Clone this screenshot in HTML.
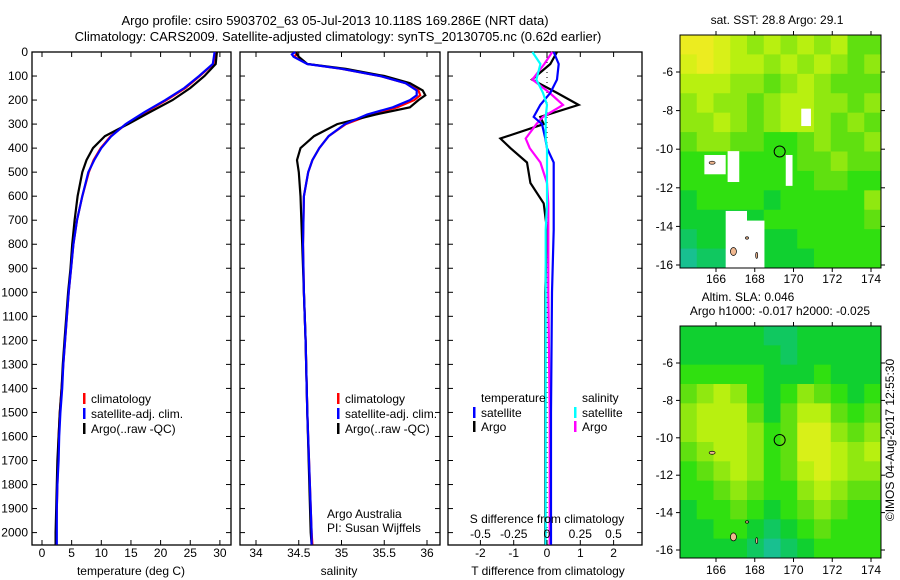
<!DOCTYPE html>
<html><head><meta charset="utf-8"><style>
body{margin:0;background:#fff}
svg{display:block;font-family:"Liberation Sans",sans-serif;font-size:12px}
</style></head><body>
<svg id="c" width="900" height="580" viewBox="0 0 900 580">
<text x="335" y="25" text-anchor="middle" font-size="13">Argo profile: csiro 5903702_63 05-Jul-2013 10.118S 169.286E (NRT data)</text>
<text x="338" y="41" text-anchor="middle" font-size="13">Climatology: CARS2009. Satellite-adjusted climatology: synTS_20130705.nc (0.62d earlier)</text>
<text x="777" y="24" text-anchor="middle">sat. SST: 28.8 Argo: 29.1</text>
<text x="748" y="301" text-anchor="middle">Altim. SLA: 0.046</text>
<text x="780" y="315" text-anchor="middle">Argo h1000: -0.017 h2000: -0.025</text>
<text transform="translate(894,440) rotate(-90)" text-anchor="middle">©IMOS 04-Aug-2017 12:55:30</text>
<g id="g"></g>
</svg>
<script>
// ---- profile data ----
const tDepth=[0,50,100,150,200,250,300,350,400,450,500,600,700,800,900,1000,1100,1200,1300,1400,1500,1600,1700,1800,1900,2000,2050];
const tClim=[29.2,28.9,26.6,24.2,21,17.5,14.2,11.6,9.9,8.7,7.9,6.8,5.9,5.3,4.9,4.5,4.2,3.9,3.6,3.3,3.0,2.8,2.7,2.6,2.5,2.4,2.4];
const tSat=[29.1,28.8,26.5,24.0,20.8,17.3,14.1,11.7,10.0,8.8,7.8,6.8,5.9,5.3,4.9,4.5,4.2,3.9,3.6,3.4,3.1,2.9,2.8,2.6,2.5,2.5,2.5];
const tArgo=[29.5,29.3,27.4,25.0,22.0,18.2,14.5,10.6,8.6,7.5,6.8,6.0,5.5,5.1,4.8,4.4,4.1,3.8,3.5,3.3,3.0,2.8,2.6,2.5,2.4,2.3,2.3];
const sDepth=[0,10,20,50,70,100,130,160,180,200,230,260,300,350,400,450,500,600,800,1000,1200,1500,2000,2050];
const sClim=[34.48,34.47,34.45,34.6,35.0,35.45,35.75,35.9,35.92,35.85,35.65,35.35,35.05,34.85,34.74,34.66,34.61,34.56,34.55,34.56,34.58,34.6,34.65,34.66];
const sSat=[34.46,34.42,34.44,34.6,35.0,35.45,35.75,35.88,35.88,35.8,35.6,35.3,35.04,34.85,34.74,34.66,34.61,34.56,34.55,34.56,34.58,34.6,34.65,34.65];
const sArgo=[34.47,34.48,34.5,34.6,35.05,35.5,35.8,35.95,35.98,35.9,35.8,35.4,34.95,34.68,34.52,34.48,34.5,34.52,34.54,34.56,34.58,34.6,34.64,34.65];
const dDepth=[0,50,115,170,220,270,300,360,400,460,545,630,740,1000,1500,2050];
const dTSat=[0.2,0.35,0.3,0.1,-0.2,-0.4,-0.15,-0.05,0,0.2,0.2,0.2,0.2,0.15,0.12,0.12];
const dTArgo=[0.3,0.1,-0.45,0.3,0.95,-0.2,-0.1,-1.4,-1.1,-0.6,-0.5,-0.1,0,-0.05,-0.05,-0.05];
const dSSat=[-0.11,-0.05,-0.08,-0.03,0,-0.01,-0.01,-0.01,0,0,0,0,-0.01,-0.01,-0.01,-0.01];
const dSArgo=[0.04,-0.02,-0.11,0.02,0.12,-0.03,-0.08,-0.16,-0.13,-0.05,0,0.01,0.01,0.01,0.02,0.02];
const depthTicks=[0,100,200,300,400,500,600,700,800,900,1000,1100,1200,1300,1400,1500,1600,1700,1800,1900,2000];
const tempTicks=[0,5,10,15,20,25,30];
const salTicks=[34,34.5,35,35.5,36];
const salTickLabels=['34','34.5','35','35.5','36'];
const dTTicks=[-2,-1,0,1,2];
const dSTicks=[-0.5,-0.25,0,0.25,0.5];
const dSTickLabels=['-0.5','-0.25','0','0.25','0.5'];
// ---- map data (0 teal .. 8 yellow) ----
const sstGrid=[
[8,8,7,6,5,6,5,6,5,6,4,4],[7,8,7,6,6,5,6,5,6,5,4,5],[6,6,6,5,5,4,5,6,5,4,4,4],
[5,6,5,5,4,5,6,6,5,5,4,5],[5,5,6,5,4,5,6,6,5,4,5,4],[4,5,5,4,4,3,3,4,5,4,4,5],
[3,3,3,3,3,3,3,4,4,5,4,4],[3,3,3,3,3,3,3,3,4,4,3,3],[2,3,3,3,3,2,3,3,3,3,3,5],
[2,2,2,2,2,3,3,3,3,3,3,4],[1,2,2,2,2,2,2,3,3,3,3,3],[0,1,1,2,2,2,2,2,3,3,3,3]];
const slaGrid=[
[2,2,2,2,2,1,1,2,2,2,2,2],[2,2,2,2,2,2,1,2,2,2,2,2],[3,3,3,3,3,2,2,2,3,2,2,2],
[4,5,6,5,3,2,3,5,4,3,2,3],[5,6,6,6,4,2,4,6,6,4,3,4],[5,6,6,6,5,3,4,7,7,5,4,5],
[4,5,6,6,5,3,4,7,7,6,5,6],[3,4,5,6,5,3,4,6,7,6,5,5],[3,3,4,5,4,3,3,5,6,5,4,4],
[2,3,3,4,3,2,3,4,5,4,3,3],[2,2,3,3,2,1,2,3,4,3,3,3],[2,2,2,2,1,0,1,2,3,3,3,3]];
const latTicks=[-6,-8,-10,-12,-14,-16];
const lonTicks=[166,168,170,172,174];
const argoLon=169.286, argoLat=-10.118;

const NS='http://www.w3.org/2000/svg';
const G=document.getElementById('g');
function el(t,a,p){const e=document.createElementNS(NS,t);for(const k in a)e.setAttribute(k,a[k]);(p||G).appendChild(e);return e;}
function txt(x,y,s,anchor,p){const e=el('text',{x:x,y:y,'text-anchor':anchor||'start'},p);e.textContent=s;return e;}
const pTop=52,pBot=545;
const yD=d=>52+d*0.2403;

function panel(name,x0,x1){
  const g=el('g',{});
  
  
  const r=el('rect',{x:x0,y:pTop,width:x1-x0,height:pBot-pTop,fill:'none',stroke:'#000','stroke-width':1.3},g);
  
  
  depthTicks.forEach(d=>{el('line',{x1:x0,x2:x0+5,y1:yD(d),y2:yD(d),stroke:'#000'},g);el('line',{x1:x1-5,x2:x1,y1:yD(d),y2:yD(d),stroke:'#000'},g);});
  return g;
}
function line(g,xs,ds,fx,col,w,name){
  const pts=xs.map((v,i)=>fx(v).toFixed(1)+','+yD(ds[i]).toFixed(1)).join(' ');
  const p=el('polyline',{points:pts,fill:'none',stroke:col,'stroke-width':w||2.2},g);
  
  
}
function xticks(g,ticks,labels,fx,y){
  ticks.forEach((t,i)=>{const x=fx(t);
    el('line',{x1:x,x2:x,y1:pBot-5,y2:pBot,stroke:'#000'},g);
    el('line',{x1:x,x2:x,y1:pTop,y2:pTop+5,stroke:'#000'},g);
    const e=txt(x,y,labels[i],'middle',g);
    
    });
}
function legendEntry(g,x,y,col,s){
  el('rect',{x:x,y:y-10,width:2.5,height:11,fill:col},g);
  const e=txt(x+8,y,s,'start',g);
  
  
}
depthTicks.forEach(d=>{const e=txt(28,yD(d)+4,String(d),'end');
  
  });

const fT=v=>42+v*5.93;
let g1=panel('temperature-panel',32,231);
line(g1,tClim,tDepth,fT,'#f00',2.2,'temp-climatology-line');
line(g1,tArgo,tDepth,fT,'#000',2.2,'temp-argo-line');
line(g1,tSat,tDepth,fT,'#00f',2.2,'temp-satellite-line');
xticks(g1,tempTicks,tempTicks.map(String),fT,557);
let t1=txt(131,575,'temperature (deg C)','middle',g1);

legendEntry(g1,83,403,'#f00','climatology');legendEntry(g1,83,418,'#00f','satellite-adj. clim.');legendEntry(g1,83,433,'#000','Argo(..raw -QC)');

const fS=v=>256+(v-34)*85.5;
let g2=panel('salinity-panel',240,440);
line(g2,sClim,sDepth,fS,'#f00',2.2,'sal-climatology-line');
line(g2,sArgo,sDepth,fS,'#000',2.2,'sal-argo-line');
line(g2,sSat,sDepth,fS,'#00f',2.2,'sal-satellite-line');
xticks(g2,salTicks,salTickLabels,fS,557);
let t2=txt(339,575,'salinity','middle',g2);

legendEntry(g2,337,403,'#f00','climatology');legendEntry(g2,337,418,'#00f','satellite-adj. clim.');legendEntry(g2,337,433,'#000','Argo(..raw -QC)');
txt(327,518,'Argo Australia','start',g2);txt(327,532,'PI: Susan Wijffels','start',g2);

const fdT=v=>547+v*33.3, fdS=v=>547+v*133;
let g3=panel('difference-panel',448,642);
el('line',{x1:547,x2:547,y1:pTop,y2:pBot,stroke:'#000','stroke-dasharray':'1,4'},g3);
line(g3,dTArgo,dDepth,fdT,'#000',2.2,'tdiff-argo-line');
line(g3,dSArgo,dDepth,fdS,'#f0f',2.2,'sdiff-argo-line');
line(g3,dTSat,dDepth,fdT,'#00f',2.2,'tdiff-satellite-line');
line(g3,dSSat,dDepth,fdS,'#0ff',2.2,'sdiff-satellite-line');
xticks(g3,dTTicks,dTTicks.map(String),fdT,557);
dSTicks.forEach((t,i)=>{const e=txt(fdS(t),538,dSTickLabels[i],'middle',g3);
  });
let t3=txt(547,523,'S difference from climatology','middle',g3);

let t4=txt(548,575,'T difference from climatology','middle',g3);

txt(481,402,'temperature','start',g3);txt(582,402,'salinity','start',g3);
legendEntry(g3,473,417,'#00f','satellite');legendEntry(g3,473,431,'#000','Argo');
legendEntry(g3,574,417,'#0ff','satellite');legendEntry(g3,574,431,'#f0f','Argo');

const pal=['#18c090','#10c860','#10d030','#30e010','#60e010','#90e810','#b8f010','#d8f018','#ecec20'];
const fLon=v=>716+(v-166)*19.375;
function map(name,grid,y0,y1,fLat,lonY,whites,isl){
  const g=el('g',{});
  
  
  const x0=680,x1=881,cw=(x1-x0)/12,ch=(y1-y0)/12;
  grid.forEach((row,r)=>row.forEach((v,c)=>{
    const cell=el('rect',{x:x0+c*cw,y:y0+r*ch,width:cw+0.5,height:ch+0.5,fill:pal[v]},g);
    
    
  }));
  whites.forEach(w=>el('rect',{x:fLon(w[0]),y:fLat(w[1]),width:w[2]*19.375,height:w[3]*(fLat(-7)-fLat(-6)),fill:'#fff'},g));
  isl.forEach(p=>el('ellipse',{cx:fLon(p[0]),cy:fLat(p[1]),rx:p[2],ry:p[3],fill:'#f0b890',stroke:'#000','stroke-width':0.7},g));
  el('rect',{x:x0,y:y0,width:x1-x0,height:y1-y0,fill:'none',stroke:'#000','stroke-width':1},g);
  latTicks.forEach(l=>{const y=fLat(l);el('line',{x1:x0-4,x2:x0,y1:y,y2:y,stroke:'#000'},g);el('line',{x1:x1,x2:x1+4,y1:y,y2:y,stroke:'#000'},g);
    const e=txt(673,y+4,String(l),'end',g);});
  lonTicks.forEach(l=>{const x=fLon(l);el('line',{x1:x,x2:x,y1:y1,y2:y1+4,stroke:'#000'},g);el('line',{x1:x,x2:x,y1:y0-4,y2:y0,stroke:'#000'},g);
    const e=txt(x,lonY,String(l),'middle',g);});
  const c=el('circle',{cx:fLon(argoLon),cy:fLat(argoLat),r:5.5,fill:'none',stroke:'#000','stroke-width':1},g);
  
}
map('sst-map',sstGrid,35,268,l=>72+(-6-l)*19.3,283,
  [[165.4,-10.3,1.1,1.0],[166.6,-10.1,0.6,1.6],[170.4,-7.9,0.5,0.9],[169.6,-10.3,0.35,1.6],[166.5,-13.2,1.1,3.0],[167.6,-13.7,0.9,2.5]],
  [[165.8,-10.7,3,1.5],[166.9,-15.3,3,4],[167.6,-14.6,1.5,1.2],[168.1,-15.5,1,3]]);
map('sla-map',slaGrid,326,558,l=>363+(-6-l)*18.7,574,
  [],
  [[165.8,-10.8,3,1.5],[166.9,-15.3,3,4],[167.6,-14.5,1.5,1.2],[168.1,-15.5,1,3]]);
</script>
</body></html>
